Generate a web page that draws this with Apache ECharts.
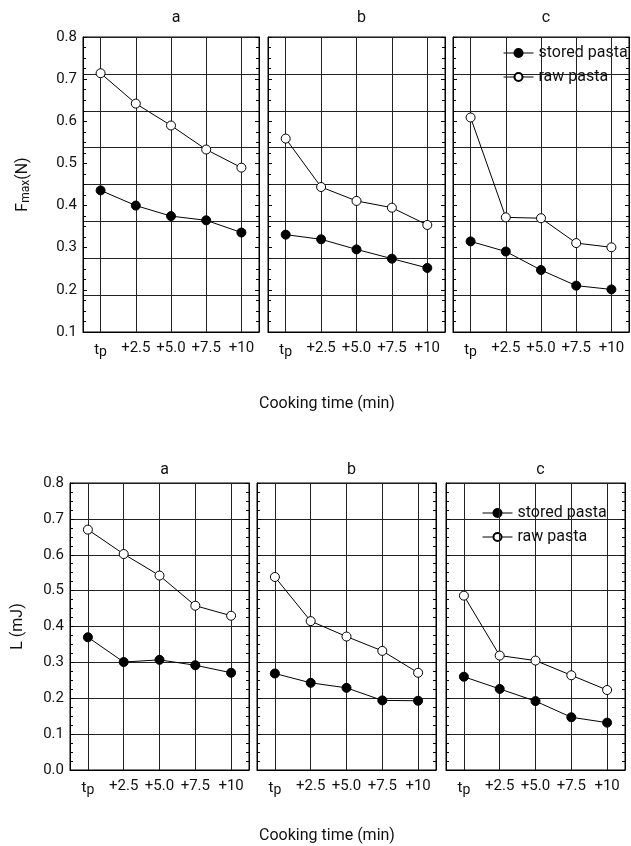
<!DOCTYPE html>
<html>
<head>
<meta charset="utf-8">
<script src="https://cdn.jsdelivr.net/npm/echarts@6/dist/echarts.min.js"></script>
<style>
html, body { margin: 0; padding: 0; background: #fff; }
#chart { width: 631px; height: 846px; }
</style>
</head>
<body>
<div id="chart"></div>
<script>
const categories = ['tp', '+2.5', '+5.0', '+7.5', '+10'];
const panelNames = ['a', 'b', 'c'];

// Fmax (N)
const fmaxStoredA = [0.436, 0.400, 0.375, 0.365, 0.336];
const fmaxRawA = [0.714, 0.642, 0.590, 0.533, 0.490];
const fmaxStoredB = [0.331, 0.320, 0.296, 0.274, 0.252];
const fmaxRawB = [0.559, 0.444, 0.411, 0.395, 0.354];
const fmaxStoredC = [0.315, 0.291, 0.247, 0.210, 0.201];
const fmaxRawC = [0.609, 0.372, 0.370, 0.311, 0.301];

// L (mJ)
const lStoredA = [0.370, 0.301, 0.307, 0.292, 0.271];
const lRawA = [0.670, 0.602, 0.542, 0.458, 0.430];
const lStoredB = [0.269, 0.243, 0.229, 0.194, 0.193];
const lRawB = [0.538, 0.415, 0.372, 0.332, 0.271];
const lStoredC = [0.260, 0.226, 0.192, 0.147, 0.132];
const lRawC = [0.486, 0.319, 0.305, 0.264, 0.223];

const fmaxRange = [0.1, 0.8];
const lRange = [0.0, 0.8];

const FONT = 'Roboto, sans-serif';
const chart = echarts.init(document.getElementById('chart'));

const grids = [
    { left: 83, top: 37, width: 176, height: 295 },
    { left: 268, top: 37, width: 177, height: 295 },
    { left: 453, top: 37, width: 176, height: 295 },
    { left: 70, top: 483, width: 179, height: 287 },
    { left: 257, top: 483, width: 179, height: 287 },
    { left: 446, top: 483, width: 179, height: 287 }
];
const stored = [fmaxStoredA, fmaxStoredB, fmaxStoredC, lStoredA, lStoredB, lStoredC];
const raw = [fmaxRawA, fmaxRawB, fmaxRawC, lRawA, lRawB, lRawC];

const xAxis = [];
const yAxis = [];
const series = [];
const title = [];

grids.forEach((g, i) => {
    const top = i < 3;
    const range = top ? fmaxRange : lRange;
    g.show = true;
    g.borderColor = '#000';
    g.borderWidth = 1;

    xAxis.push({
        type: 'category',
        gridIndex: i,
        data: categories,
        boundaryGap: true,
        axisLine: { show: true, lineStyle: { color: '#000' } },
        axisTick: { show: false },
        splitLine: { show: false },
        axisLabel: {
            interval: 0,
            hideOverlap: false,
            margin: 9,
            color: '#111',
            fontFamily: FONT,
            fontSize: 15,
            formatter: v => v === 'tp' ? '{t|t}{p|p}' : v,
            rich: {
                t: { fontFamily: FONT, fontSize: 15, color: '#111' },
                p: { fontFamily: FONT, fontSize: 14, color: '#111', padding: [4, 0, 0, 0] }
            }
        }
    });

    const yBase = {
        type: 'value',
        gridIndex: i,
        min: range[0],
        max: range[1],
        interval: 0.1,
        axisLine: { show: true, lineStyle: { color: '#000' } },
        axisTick: { show: true, inside: true, length: 4, lineStyle: { color: '#000' } },
        minorTick: { show: true, splitNumber: 4, length: 3, lineStyle: { color: '#000' } },
        minorSplitLine: { show: false }
    };
    const yLeft = Object.assign({}, yBase, {
        position: 'left',
        splitLine: { show: !top, lineStyle: { color: '#222', width: 1 } },
        axisLabel: {
            show: i === 0 || i === 3,
            margin: 6,
            color: '#111',
            fontFamily: FONT,
            fontSize: 15,
            formatter: v => v.toFixed(1)
        }
    });
    if (i === 0) {
        yLeft.name = '{f|F}{s|max}{f|(N)}';
        yLeft.nameLocation = 'middle';
        yLeft.nameGap = 51;
        yLeft.nameTextStyle = {
            rich: {
                f: { fontFamily: FONT, fontSize: 16, color: '#111' },
                s: { fontFamily: FONT, fontSize: 12, color: '#111', padding: [7, 0, 0, 0] }
            }
        };
    }
    if (i === 3) {
        yLeft.name = 'L (mJ)';
        yLeft.nameLocation = 'middle';
        yLeft.nameGap = 44;
        yLeft.nameTextStyle = { fontFamily: FONT, fontSize: 16, color: '#111' };
    }
    const leftIndex = yAxis.length;
    yAxis.push(yLeft);
    yAxis.push(Object.assign({}, yBase, {
        position: 'right',
        splitLine: { show: false },
        axisLabel: { show: false }
    }));
    if (top) {
        // the original figure's horizontal rules split the panel into 8 equal bands
        yAxis.push({
            type: 'value',
            gridIndex: i,
            position: 'right',
            min: 0,
            max: 8,
            interval: 1,
            axisLine: { show: false },
            axisTick: { show: false },
            axisLabel: { show: false },
            splitLine: { show: true, lineStyle: { color: '#222', width: 1 } }
        });
    }

    series.push({
        name: 'stored pasta',
        type: 'line',
        xAxisIndex: i,
        yAxisIndex: leftIndex,
        data: stored[i],
        symbol: 'circle',
        symbolSize: 9,
        lineStyle: { color: '#000', width: 1 },
        itemStyle: { color: '#000', borderColor: '#000', borderWidth: 1 },
        z: 5,
        markLine: {
            silent: true,
            symbol: ['none', 'none'],
            label: { show: false },
            lineStyle: { color: '#222', width: 1, type: 'solid' },
            data: categories.map((c, k) => ({ xAxis: k }))
        }
    });
    series.push({
        name: 'raw pasta',
        type: 'line',
        xAxisIndex: i,
        yAxisIndex: leftIndex,
        data: raw[i],
        symbol: 'circle',
        symbolSize: 9,
        lineStyle: { color: '#000', width: 1 },
        itemStyle: { color: '#fff', borderColor: '#000', borderWidth: 1 },
        z: 5
    });

    title.push({
        text: panelNames[i % 3],
        left: g.left + g.width / 2,
        top: top ? 5 : 457,
        textAlign: 'center',
        textStyle: { fontFamily: FONT, fontSize: 16, fontWeight: 'normal', color: '#111' }
    });
});

title.push({
    text: 'Cooking time (min)', left: 322, top: 391, textAlign: 'center',
    textStyle: { fontFamily: FONT, fontSize: 16, fontWeight: 'normal', color: '#111' }
});
title.push({
    text: 'Cooking time (min)', left: 322, top: 823, textAlign: 'center',
    textStyle: { fontFamily: FONT, fontSize: 16, fontWeight: 'normal', color: '#111' }
});

const legendBase = {
    orient: 'vertical',
    selectedMode: false,
    itemWidth: 30,
    itemHeight: 10,
    itemGap: 8,
    data: ['stored pasta', 'raw pasta'],
    lineStyle: { color: '#000', width: 1 },
    textStyle: { fontFamily: FONT, fontSize: 16, color: '#111' }
};

chart.setOption({
    animation: false,
    backgroundColor: '#fff',
    title: title,
    legend: [
        Object.assign({}, legendBase, { left: 498, top: 40 }),
        Object.assign({}, legendBase, { left: 477, top: 500 })
    ],
    grid: grids,
    xAxis: xAxis,
    yAxis: yAxis,
    series: series
});
</script>
</body>
</html>
